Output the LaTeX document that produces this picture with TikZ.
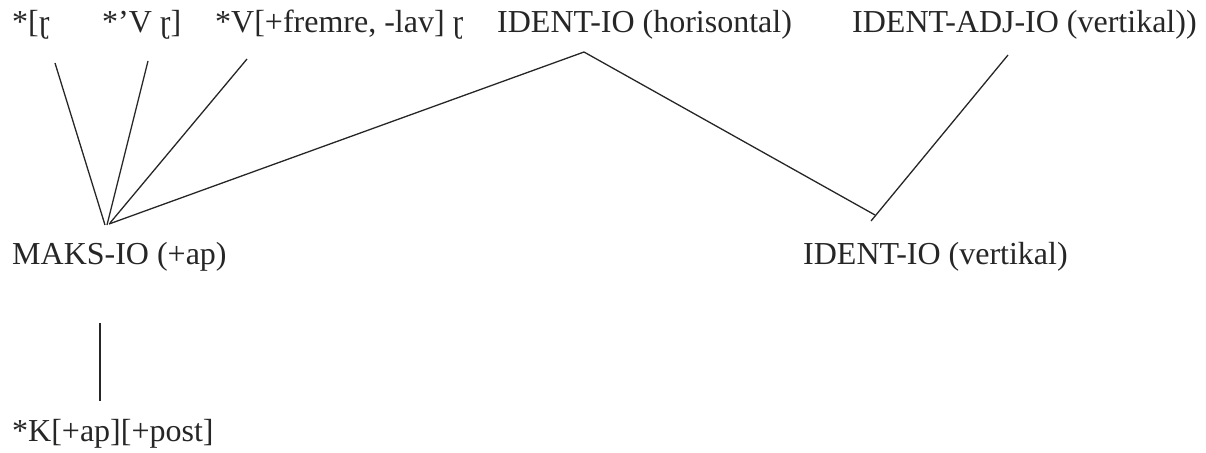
\documentclass[tikz,border=0pt]{standalone}
\usepackage{fontspec}
\setmainfont{Liberation Serif}
\begin{document}
\begin{tikzpicture}[x=1pt,y=-1pt,
  lbl/.style={anchor=base west,inner sep=0pt,font=\fontsize{32}{36}\selectfont,text=black!85},
  conn/.style={line width=1.3pt,draw=black!85}]
\useasboundingbox (0,0) rectangle (1206,452);
\node[lbl] (t1) at (12,33) {*[ɽ};
\node[lbl] (t2) at (102,33) {*’V ɽ]};
\node[lbl] (t3) at (215,33) {*V[+fremre, -lav] ɽ};
\node[lbl] (t4) at (497,33) {IDENT-IO (horisontal)};
\node[lbl] (t5) at (852,33) {IDENT-ADJ-IO (vertikal))};
\node[lbl] (m1) at (12,264) {MAKS-IO (+ap)};
\node[lbl] (m2) at (803,264) {IDENT-IO (vertikal)};
\node[lbl] (b1) at (12,441) {*K[+ap][+post]};
\coordinate (a1) at (55,63);
\coordinate (a2) at (148,61);
\coordinate (a3) at (247,59);
\coordinate (a4) at (584,52);
\coordinate (a5) at (1008,55);
\coordinate (h1) at (105,225);
\coordinate (h2) at (107,225);
\coordinate (h3) at (110,223);
\coordinate (h4) at (109,224);
\coordinate (v1) at (875,215);
\coordinate (v2) at (871,221);
\coordinate (m1b) at (100,323);
\coordinate (b1t) at (100,401);
\draw[conn] (a1) -- (h1);
\draw[conn] (a2) -- (h2);
\draw[conn] (a3) -- (h3);
\draw[conn] (a4) -- (h4);
\draw[conn] (a4) -- (v1);
\draw[conn] (a5) -- (v2);
\draw[conn] (m1b) -- (b1t);
\end{tikzpicture}
\end{document}
